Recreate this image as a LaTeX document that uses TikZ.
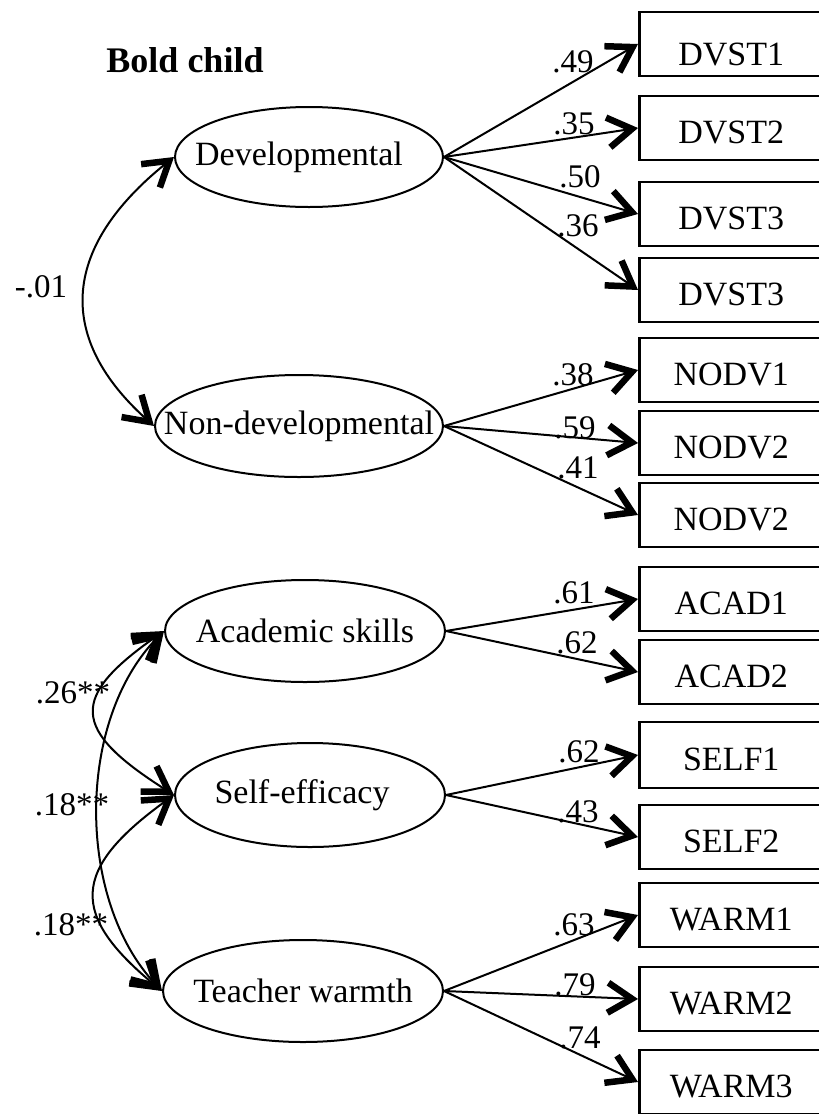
\documentclass[tikz,border=0pt]{standalone}
\usepackage{fontspec}
\setmainfont{Liberation Serif}
\usetikzlibrary{arrows.meta,shapes.geometric}
\tikzset{
  chev/.tip={Straight Barb[length=24pt,width=30pt,line width=6.5pt]},
  lat/.style={draw,ellipse,line width=2pt,inner sep=0pt},
  lattext/.style={inner sep=0pt,font=\fontsize{34}{40}\selectfont},
  obs/.style={draw,rectangle,line width=2.5pt,minimum width=184pt,minimum height=64pt,inner sep=0pt,anchor=west,text height=30pt,text depth=0pt,font=\fontsize{34}{40}\selectfont},
  ld/.style={inner sep=0pt,font=\fontsize{33}{40}\selectfont},
  load/.style={-chev,line width=2pt},
  cov/.style={chev-chev,line width=2pt}
}
\begin{document}
\begin{tikzpicture}[x=1pt,y=1pt]
\useasboundingbox (0,0) rectangle (819,-1114);
\node[inner sep=0pt,font=\fontsize{36}{40}\selectfont\bfseries] (title) at (185,-60) {Bold child};
% latent variables
\node[lat,minimum width=268pt,minimum height=100pt,label={[lattext,xshift=-10pt]center:Developmental}] (dev) at (309,-157) {};
\node[lat,minimum width=288pt,minimum height=102pt,label={[lattext]center:Non-developmental}] (nondev) at (299,-426) {};
\node[lat,minimum width=280pt,minimum height=102pt,label={[lattext]center:Academic skills}] (acad) at (305,-631) {};
\node[lat,minimum width=270pt,minimum height=104pt,label={[lattext,xshift=-8pt]center:Self-efficacy}] (self) at (310,-795) {};
\node[lat,minimum width=280pt,minimum height=102pt,label={[lattext]center:Teacher warmth}] (warm) at (303,-991) {};
% observed variables
\node[obs,text height=42pt] (d1) at (638,-44) {DVST1};
\node[obs] (d2) at (638,-128) {DVST2};
\node[obs] (d3) at (638,-214) {DVST3};
\node[obs] (d4) at (638,-290) {DVST3};
\node[obs] (n1) at (638,-370) {NODV1};
\node[obs] (n2) at (638,-443) {NODV2};
\node[obs] (n3) at (638,-515) {NODV2};
\node[obs] (a1) at (638,-599) {ACAD1};
\node[obs] (a2) at (638,-672) {ACAD2};
\node[obs,minimum height=66pt] (s1) at (638,-755) {SELF1};
\node[obs] (s2) at (638,-837) {SELF2};
\node[obs] (w1) at (638,-915) {WARM1};
\node[obs] (w2) at (638,-999) {WARM2};
\node[obs] (w3) at (638,-1082) {WARM3};
% loadings
\draw[load] (dev.east) -- (d1.west);
\draw[load] (dev.east) -- (d2.west);
\draw[load] (dev.east) -- (d3.west);
\draw[load] (dev.east) -- (d4.west);
\draw[load] (nondev.east) -- (n1.west);
\draw[load] (nondev.east) -- (n2.west);
\draw[load] (nondev.east) -- (n3.west);
\draw[load] (acad.east) -- (a1.west);
\draw[load] (acad.east) -- (a2.west);
\draw[load] (self.east) -- (s1.west);
\draw[load] (self.east) -- (s2.west);
\draw[load] (warm.east) -- (w1.west);
\draw[load] (warm.east) -- (w2.west);
\draw[load] (warm.east) -- (w3.west);
\node[ld] (l1) at (573,-62) {.49};
\node[ld] (l2) at (574,-124) {.35};
\node[ld] (l3) at (580,-177) {.50};
\node[ld] (l4) at (578,-226) {.36};
\node[ld] (l5) at (573,-375) {.38};
\node[ld] (l6) at (575,-428) {.59};
\node[ld] (l7) at (578,-468) {.41};
\node[ld] (l8) at (574,-593) {.61};
\node[ld] (l9) at (577,-643) {.62};
\node[ld] (l10) at (579,-752) {.62};
\node[ld] (l11) at (578,-812) {.43};
\node[ld] (l12) at (574,-925) {.63};
\node[ld] (l13) at (575,-985) {.79};
\node[ld] (l14) at (580,-1038) {.74};
% covariances
\draw[cov] (dev.west) .. controls (58,-250) and (58,-340) .. (nondev.west);
\draw[cov] (acad.west) .. controls (70,-697) and (70,-729) .. (self.west);
\draw[cov] (acad.west) .. controls (76,-720) and (76,-900) .. (warm.west);
\draw[cov] (self.west) .. controls (70,-870) and (70,-915) .. (warm.west);
\node[ld] (c1) at (41,-287) {-.01};
\node[ld] (c2) at (73,-693) {.26**};
\node[ld] (c3) at (72,-805) {.18**};
\node[ld] (c4) at (71,-925) {.18**};
\end{tikzpicture}
\end{document}
